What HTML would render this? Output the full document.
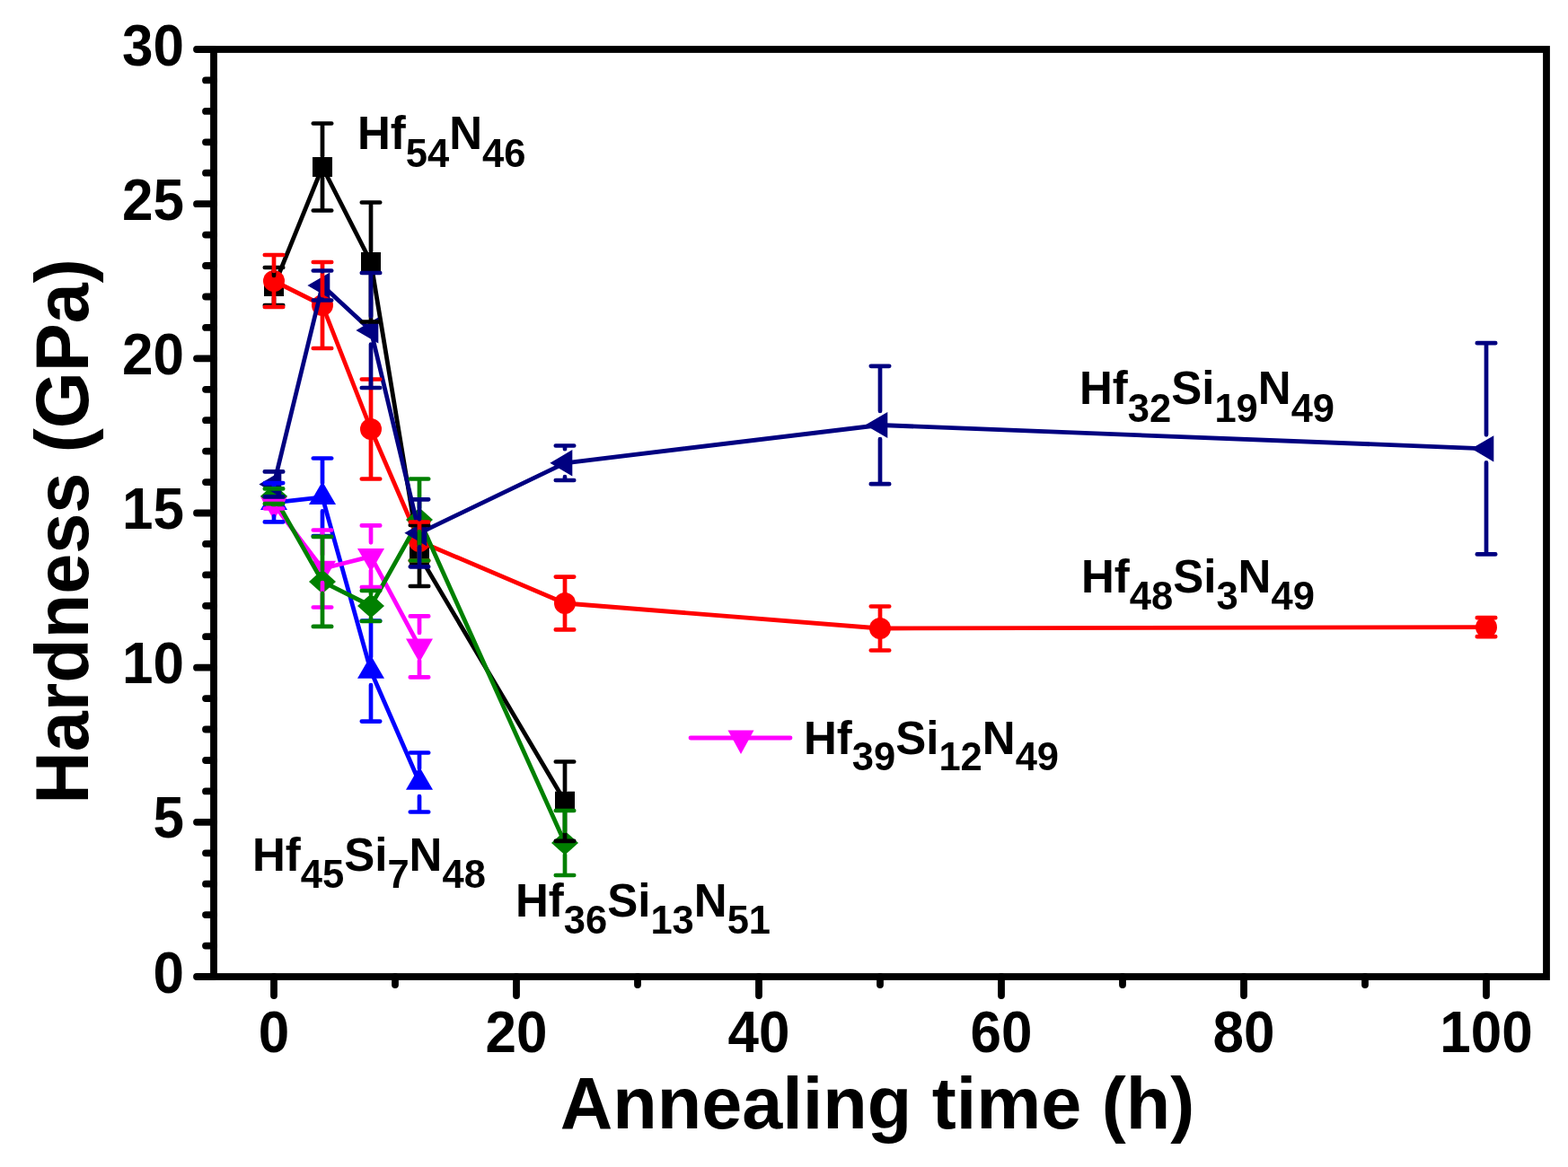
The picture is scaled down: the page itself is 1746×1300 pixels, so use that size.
<!DOCTYPE html>
<html><head><meta charset="utf-8"><title>Hardness vs annealing time</title>
<style>html,body{margin:0;padding:0;background:#fff;}svg{display:block;}</style>
</head><body>
<svg width="1746" height="1300" viewBox="0 0 1746 1300">
<rect width="1746" height="1300" fill="#fff"/>
<polyline points="305.0,319.0 359.0,186.0 413.0,292.0 467.0,619.0 629.0,892.7" fill="none" stroke="#000000" stroke-width="4.8" stroke-linejoin="round"/>
<rect x="294.0" y="308.0" width="22" height="22" fill="#000000"/>
<rect x="348.0" y="175.0" width="22" height="22" fill="#000000"/>
<rect x="402.0" y="281.0" width="22" height="22" fill="#000000"/>
<rect x="456.0" y="608.0" width="22" height="22" fill="#000000"/>
<rect x="618.0" y="881.7" width="22" height="22" fill="#000000"/>
<polyline points="305.0,313.0 359.0,340.0 413.0,478.0 467.0,603.0 629.0,672.0 980.0,700.0 1655.0,698.7" fill="none" stroke="#FF0000" stroke-width="4.8" stroke-linejoin="round"/>
<circle cx="305.0" cy="313.0" r="12" fill="#FF0000"/>
<circle cx="359.0" cy="340.0" r="12" fill="#FF0000"/>
<circle cx="413.0" cy="478.0" r="12" fill="#FF0000"/>
<circle cx="467.0" cy="603.0" r="12" fill="#FF0000"/>
<circle cx="629.0" cy="672.0" r="12" fill="#FF0000"/>
<circle cx="980.0" cy="700.0" r="12" fill="#FF0000"/>
<circle cx="1655.0" cy="698.7" r="12" fill="#FF0000"/>
<polyline points="305.0,559.8 359.0,553.8 413.0,747.6 467.0,871.5" fill="none" stroke="#0000FF" stroke-width="4.8" stroke-linejoin="round"/>
<polygon points="305.0,542.2 320.0,568.0 290.0,568.0" fill="#0000FF"/>
<polygon points="359.0,536.3 374.0,562.0 344.0,562.0" fill="#0000FF"/>
<polygon points="413.0,730.1 428.0,755.8 398.0,755.8" fill="#0000FF"/>
<polygon points="467.0,854.0 482.0,879.7 452.0,879.7" fill="#0000FF"/>
<polyline points="305.0,562.0 359.0,633.5 413.0,619.8 467.0,720.4" fill="none" stroke="#FF00FF" stroke-width="4.8" stroke-linejoin="round"/>
<polygon points="305.0,579.5 320.0,553.2 290.0,553.2" fill="#FF00FF"/>
<polygon points="359.0,651.0 374.0,624.7 344.0,624.7" fill="#FF00FF"/>
<polygon points="413.0,637.3 428.0,611.0 398.0,611.0" fill="#FF00FF"/>
<polygon points="467.0,737.9 482.0,711.6 452.0,711.6" fill="#FF00FF"/>
<polyline points="305.0,552.8 359.0,647.9 413.0,675.0 467.0,579.0 629.0,939.0" fill="none" stroke="#008000" stroke-width="4.8" stroke-linejoin="round"/>
<polygon points="305.0,539.3 320.0,552.8 305.0,566.3 290.0,552.8" fill="#008000"/>
<polygon points="359.0,634.4 374.0,647.9 359.0,661.4 344.0,647.9" fill="#008000"/>
<polygon points="413.0,661.5 428.0,675.0 413.0,688.5 398.0,675.0" fill="#008000"/>
<polygon points="467.0,565.5 482.0,579.0 467.0,592.5 452.0,579.0" fill="#008000"/>
<polygon points="629.0,925.5 644.0,939.0 629.0,952.5 614.0,939.0" fill="#008000"/>
<polyline points="305.0,539.4 359.0,318.0 413.0,368.0 467.0,593.8 629.0,515.8 980.0,473.5 1655.0,499.8" fill="none" stroke="#000080" stroke-width="4.8" stroke-linejoin="round"/>
<polygon points="288.4,539.4 313.3,524.8 313.3,554.0" fill="#000080"/>
<polygon points="342.4,318.0 367.3,303.4 367.3,332.6" fill="#000080"/>
<polygon points="396.4,368.0 421.3,353.4 421.3,382.6" fill="#000080"/>
<polygon points="450.4,593.8 475.3,579.2 475.3,608.4" fill="#000080"/>
<polygon points="612.4,515.8 637.3,501.1 637.3,530.4" fill="#000080"/>
<polygon points="963.4,473.5 988.3,458.9 988.3,488.1" fill="#000080"/>
<polygon points="1638.4,499.8 1663.3,485.2 1663.3,514.4" fill="#000080"/>
<path d="M305.0,298.0V307.0M305.0,331.0V340.0M294.8,298.0H315.2M294.8,340.0H315.2M359.0,137.5V174.0M359.0,198.0V234.5M348.8,137.5H369.2M348.8,234.5H369.2M413.0,225.5V280.0M413.0,304.0V358.5M402.8,225.5H423.2M402.8,358.5H423.2M467.0,585.0V607.0M467.0,631.0V653.0M456.8,585.0H477.2M456.8,653.0H477.2M629.0,848.5V880.7M629.0,904.7V936.9M618.8,848.5H639.2M618.8,936.9H639.2" fill="none" stroke="#000000" stroke-width="4.7" stroke-linecap="round"/>
<path d="M305.0,284.0V302.0M305.0,324.0V342.0M294.8,284.0H315.2M294.8,342.0H315.2M359.0,292.0V329.0M359.0,351.0V388.0M348.8,292.0H369.2M348.8,388.0H369.2M413.0,422.5V467.0M413.0,489.0V533.5M402.8,422.5H423.2M402.8,533.5H423.2M467.0,581.5V592.0M467.0,614.0V624.5M456.8,581.5H477.2M456.8,624.5H477.2M629.0,642.6V661.0M629.0,683.0V701.4M618.8,642.6H639.2M618.8,701.4H639.2M980.0,675.5V689.0M980.0,711.0V724.5M969.8,675.5H990.2M969.8,724.5H990.2M1644.8,688.2H1665.2M1644.8,709.2H1665.2" fill="none" stroke="#FF0000" stroke-width="4.7" stroke-linecap="round"/>
<path d="M305.0,538.1V544.2M305.0,575.2V581.4M294.8,538.1H315.2M294.8,581.4H315.2M359.0,510.5V538.3M359.0,569.3V597.1M348.8,510.5H369.2M348.8,597.1H369.2M413.0,691.6V732.1M413.0,763.1V803.6M402.8,691.6H423.2M402.8,803.6H423.2M467.0,838.5V856.0M467.0,887.0V904.5M456.8,838.5H477.2M456.8,904.5H477.2" fill="none" stroke="#0000FF" stroke-width="4.7" stroke-linecap="round"/>
<path d="M294.8,557.5H315.2M294.8,566.5H315.2M359.0,590.5V618.0M359.0,649.0V676.5M348.8,590.5H369.2M348.8,676.5H369.2M413.0,585.4V604.3M413.0,635.3V654.2M402.8,585.4H423.2M402.8,654.2H423.2M467.0,686.4V704.9M467.0,735.9V754.4M456.8,686.4H477.2M456.8,754.4H477.2" fill="none" stroke="#FF00FF" stroke-width="4.7" stroke-linecap="round"/>
<path d="M294.8,544.4H315.2M294.8,561.2H315.2M359.0,597.9V634.9M359.0,660.9V697.9M348.8,597.9H369.2M348.8,697.9H369.2M413.0,658.0V662.0M413.0,688.0V692.0M402.8,658.0H423.2M402.8,692.0H423.2M467.0,533.5V566.0M467.0,592.0V624.5M456.8,533.5H477.2M456.8,624.5H477.2M629.0,903.0V926.0M629.0,952.0V975.0M618.8,903.0H639.2M618.8,975.0H639.2" fill="none" stroke="#008000" stroke-width="4.7" stroke-linecap="round"/>
<path d="M294.8,525.4H315.2M294.8,553.4H315.2M359.0,301.5V302.5M359.0,333.5V334.5M348.8,301.5H369.2M348.8,334.5H369.2M413.0,304.0V352.5M413.0,383.5V432.0M402.8,304.0H423.2M402.8,432.0H423.2M467.0,556.3V578.3M467.0,609.3V631.3M456.8,556.3H477.2M456.8,631.3H477.2M629.0,496.5V500.2M629.0,531.2V535.0M618.8,496.5H639.2M618.8,535.0H639.2M980.0,407.8V458.0M980.0,489.0V539.2M969.8,407.8H990.2M969.8,539.2H990.2M1655.0,382.2V484.3M1655.0,515.3V617.4M1644.8,382.2H1665.2M1644.8,617.4H1665.2" fill="none" stroke="#000080" stroke-width="4.7" stroke-linecap="round"/>
<rect x="238" y="55" width="1484" height="1033" fill="none" stroke="#000" stroke-width="7.8"/>
<path d="M238,1088.0H219M238,1053.6H229M238,1019.1H229M238,984.7H229M238,950.3H229M238,915.8H219M238,881.4H229M238,847.0H229M238,812.5H229M238,778.1H229M238,743.7H219M238,709.2H229M238,674.8H229M238,640.4H229M238,605.9H229M238,571.5H219M238,537.1H229M238,502.6H229M238,468.2H229M238,433.8H229M238,399.3H219M238,364.9H229M238,330.5H229M238,296.0H229M238,261.6H229M238,227.2H219M238,192.7H229M238,158.3H229M238,123.9H229M238,89.4H229M238,55.0H219M305.0,1088V1109M440.0,1088V1097M575.0,1088V1109M710.0,1088V1097M845.0,1088V1109M980.0,1088V1097M1115.0,1088V1109M1250.0,1088V1097M1385.0,1088V1109M1520.0,1088V1097M1655.0,1088V1109" stroke="#000" stroke-width="7.8" stroke-linecap="round"/>
<text transform="translate(205,1105.6) scale(1,1.045)" font-family="'Liberation Sans', sans-serif" font-weight="bold" font-size="62" text-anchor="end">0</text>
<text transform="translate(205,933.4) scale(1,1.045)" font-family="'Liberation Sans', sans-serif" font-weight="bold" font-size="62" text-anchor="end">5</text>
<text transform="translate(205,761.3) scale(1,1.045)" font-family="'Liberation Sans', sans-serif" font-weight="bold" font-size="62" text-anchor="end">10</text>
<text transform="translate(205,589.1) scale(1,1.045)" font-family="'Liberation Sans', sans-serif" font-weight="bold" font-size="62" text-anchor="end">15</text>
<text transform="translate(205,416.9) scale(1,1.045)" font-family="'Liberation Sans', sans-serif" font-weight="bold" font-size="62" text-anchor="end">20</text>
<text transform="translate(205,244.8) scale(1,1.045)" font-family="'Liberation Sans', sans-serif" font-weight="bold" font-size="62" text-anchor="end">25</text>
<text transform="translate(205,72.6) scale(1,1.045)" font-family="'Liberation Sans', sans-serif" font-weight="bold" font-size="62" text-anchor="end">30</text>
<text transform="translate(305.0,1172) scale(1,1.045)" font-family="'Liberation Sans', sans-serif" font-weight="bold" font-size="62" text-anchor="middle">0</text>
<text transform="translate(575.0,1172) scale(1,1.045)" font-family="'Liberation Sans', sans-serif" font-weight="bold" font-size="62" text-anchor="middle">20</text>
<text transform="translate(845.0,1172) scale(1,1.045)" font-family="'Liberation Sans', sans-serif" font-weight="bold" font-size="62" text-anchor="middle">40</text>
<text transform="translate(1115.0,1172) scale(1,1.045)" font-family="'Liberation Sans', sans-serif" font-weight="bold" font-size="62" text-anchor="middle">60</text>
<text transform="translate(1385.0,1172) scale(1,1.045)" font-family="'Liberation Sans', sans-serif" font-weight="bold" font-size="62" text-anchor="middle">80</text>
<text transform="translate(1655.0,1172) scale(1,1.045)" font-family="'Liberation Sans', sans-serif" font-weight="bold" font-size="62" text-anchor="middle">100</text>
<text x="977" y="1257" font-family="'Liberation Sans', sans-serif" font-weight="bold" font-size="81" text-anchor="middle">Annealing time (h)</text>
<text transform="translate(98,592) rotate(-90) scale(1,1.035)" x="0" y="0" font-family="'Liberation Sans', sans-serif" font-weight="bold" font-size="81" text-anchor="middle">Hardness (GPa)</text>
<text x="398" y="166" font-family="'Liberation Sans', sans-serif" font-weight="bold" font-size="51"><tspan dy="0">Hf</tspan><tspan font-size="43.5" dy="20">54</tspan><tspan dy="-20">N</tspan><tspan font-size="43.5" dy="20">46</tspan></text>
<text x="1202" y="450" font-family="'Liberation Sans', sans-serif" font-weight="bold" font-size="51"><tspan dy="0">Hf</tspan><tspan font-size="43.5" dy="19.5">32</tspan><tspan dy="-19.5">Si</tspan><tspan font-size="43.5" dy="19.5">19</tspan><tspan dy="-19.5">N</tspan><tspan font-size="43.5" dy="19.5">49</tspan></text>
<text x="1204" y="660" font-family="'Liberation Sans', sans-serif" font-weight="bold" font-size="51"><tspan dy="0">Hf</tspan><tspan font-size="43.5" dy="19">48</tspan><tspan dy="-19">Si</tspan><tspan font-size="43.5" dy="19">3</tspan><tspan dy="-19">N</tspan><tspan font-size="43.5" dy="19">49</tspan></text>
<text x="895" y="840" font-family="'Liberation Sans', sans-serif" font-weight="bold" font-size="51"><tspan dy="0">Hf</tspan><tspan font-size="43.5" dy="18.3">39</tspan><tspan dy="-18.3">Si</tspan><tspan font-size="43.5" dy="18.3">12</tspan><tspan dy="-18.3">N</tspan><tspan font-size="43.5" dy="18.3">49</tspan></text>
<text x="281" y="970" font-family="'Liberation Sans', sans-serif" font-weight="bold" font-size="51"><tspan dy="0">Hf</tspan><tspan font-size="43.5" dy="18.6">45</tspan><tspan dy="-18.6">Si</tspan><tspan font-size="43.5" dy="18.6">7</tspan><tspan dy="-18.6">N</tspan><tspan font-size="43.5" dy="18.6">48</tspan></text>
<text x="574" y="1021" font-family="'Liberation Sans', sans-serif" font-weight="bold" font-size="51"><tspan dy="0">Hf</tspan><tspan font-size="43.5" dy="18.5">36</tspan><tspan dy="-18.5">Si</tspan><tspan font-size="43.5" dy="18.5">13</tspan><tspan dy="-18.5">N</tspan><tspan font-size="43.5" dy="18.5">51</tspan></text>
<path d="M769,822H880" stroke="#FF00FF" stroke-width="4.8" stroke-linecap="round"/>
<polygon points="825,840 839.5,813.5 810.5,813.5" fill="#FF00FF"/>
</svg>
</body></html>
